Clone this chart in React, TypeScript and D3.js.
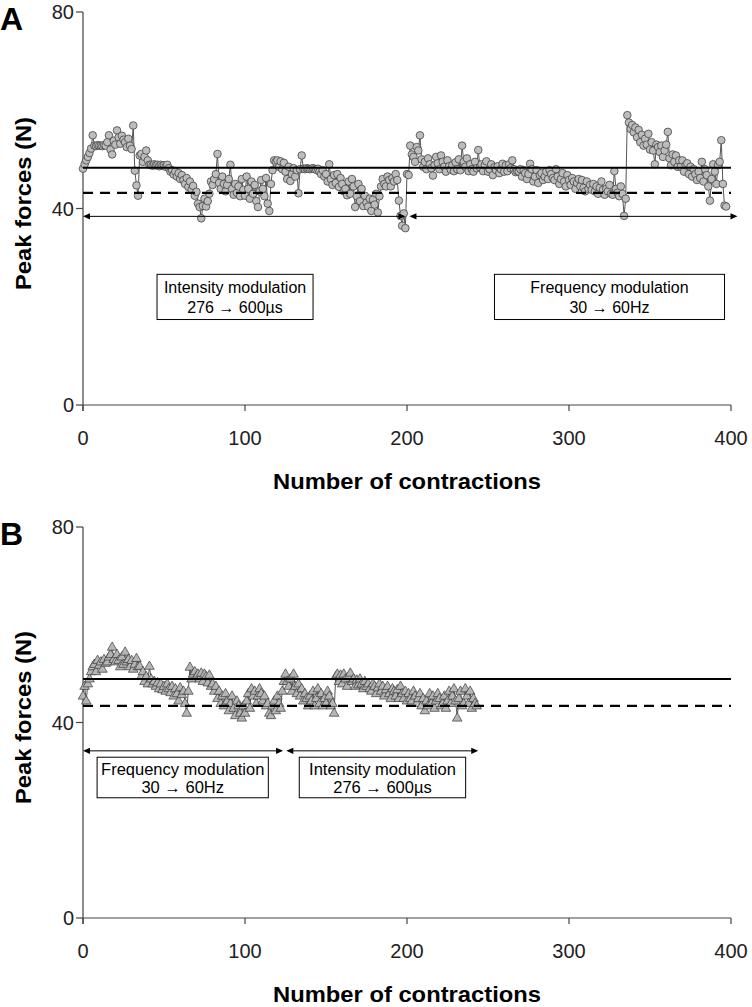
import React from "react";
import * as d3 from "d3";

// ---------- Panel A data (Number of contractions -> Peak forces, N) ----------
const peakA: number[] = [
  // intensity modulation 0-199
  48.1, 49.0, 49.8, 50.5, 51.3, 52.2, 54.9,
  52.8, 52.7, 52.9, 52.8, 52.8, 52.7, 52.9, 52.8,
  53.5, 54.9, 52.0, 51.0, 53.8, 53.0, 55.9,
  54.5, 53.2, 54.8, 54.0, 53.5, 52.5, 54.2, 52.8, 52.1, 56.9,
  47.7, 44.7, 42.6, 50.8,
  51.1, 49.5, 50.5, 51.8, 49.8, 48.9,
  48.9, 48.7, 49.0, 48.8, 48.9, 48.6, 48.9, 48.7, 48.8, 48.5, 48.9, 48.2,
  47.5, 47.8, 46.9, 47.5, 46.5, 47.2, 46.0, 46.8, 45.8,
  45.0, 46.2, 44.4, 45.5, 43.8, 44.6, 42.6, 43.4,
  41.0, 40.3, 38.0, 40.5, 42.0, 40.4, 41.5, 43.0,
  45.5, 44.8, 46.0, 47.0, 51.1, 45.2, 44.0, 46.5, 45.0, 43.5, 44.8, 46.0,
  48.9,
  44.0, 42.8, 45.0, 43.2, 44.5, 42.5, 46.0, 43.8, 42.6,
  46.5, 44.0, 42.0, 45.5, 43.0, 44.8, 41.5, 40.3, 43.5, 45.8,
  44.0, 42.5, 46.2, 41.0, 39.5, 45.0, 47.8,
  49.8, 49.5, 49.8, 48.5, 49.6, 48.0, 49.3,
  47.5, 46.0, 48.5, 45.6, 47.0, 48.2, 46.5, 47.8, 43.1, 48.0, 50.8,
  48.1, 48.0, 48.2, 48.1, 48.0, 48.1, 48.2, 48.0, 47.9, 48.1, 47.5, 47.0, 47.8,
  46.5, 47.0, 45.5, 49.0, 46.0, 44.8, 46.8, 45.2, 47.0, 44.4, 46.2, 45.0, 43.5, 44.0, 42.7,
  45.5, 43.0, 46.0, 44.5, 40.3, 42.5, 45.0, 41.5, 44.0, 40.5, 42.6, 41.2,
  40.4, 42.0, 39.5, 41.8, 40.8, 43.0, 39.2, 42.5,
  44.5, 46.0, 45.0, 44.5, 46.5, 45.8, 44.5, 46.2, 45.5, 47.0, 45.8,
  41.6, 38.5, 36.5, 39.0, 36.0,
  // frequency modulation 200-399
  47.0, 46.8, 52.8, 51.0, 50.5, 49.5, 52.5, 51.8, 54.9, 50.0, 48.5, 49.5, 48.0, 50.2, 49.0, 48.2,
  46.7, 48.8, 50.5, 49.2, 48.0, 50.8, 49.5, 48.5, 47.5, 49.8, 48.6, 47.9, 48.8, 47.6, 49.4, 48.0, 50.0, 47.8, 52.8, 49.5,
  48.5, 50.2, 47.6, 49.0, 48.0, 47.5, 49.5, 48.2, 51.9, 48.4, 49.0, 47.6, 48.8, 49.6, 47.5, 48.0, 49.0, 46.8, 48.4, 47.8,
  48.6, 47.2, 48.0, 49.1, 47.5, 48.8, 47.6, 49.0, 48.2, 49.8, 48.0, 47.4, 47.6, 47.5, 48.0, 46.5, 47.8, 47.2, 46.0, 47.0,
  49.1, 48.0, 45.5, 46.5, 47.8, 45.2, 46.8, 47.2, 45.8, 46.5, 47.5, 46.0, 47.8, 47.0, 46.2, 45.8, 48.0, 46.5, 45.0, 46.0,
  47.2, 45.5, 44.5, 46.8, 45.8, 44.8, 46.2, 45.5, 44.0, 45.2, 46.0, 44.5, 45.8, 44.2, 43.5, 45.5, 44.0, 44.8, 43.8, 45.0,
  43.5, 44.5, 43.0, 44.2, 45.5, 43.8, 42.8, 44.0, 43.5, 44.8, 43.0, 42.8, 47.6, 44.0, 43.2, 42.5, 44.5, 43.0, 38.5, 42.0,
  59.0, 57.5, 56.2, 57.0, 55.5, 56.5, 54.5, 56.0, 53.5, 55.0, 52.8, 54.2, 53.0, 55.2, 52.0, 53.5, 51.8, 49.0, 53.0, 52.5,
  51.5, 52.8, 50.5, 51.8, 53.0, 55.6, 50.2, 48.8, 51.0, 49.5, 50.8, 48.5, 49.8, 48.5, 49.8, 47.5, 48.8, 49.2, 47.0, 48.5,
  46.5, 48.0, 47.0, 45.8, 47.5, 46.2, 49.5, 45.5, 48.0, 46.8, 44.5, 41.6, 46.0, 49.0, 47.5, 45.0, 48.8, 49.5, 53.9, 45.0, 40.6, 40.4,
];

// ---------- Panel B data ----------
const peakB: number[] = [
  45.5, 47.5, 44.5, 48.0, 49.0, 50.5, 51.5, 52.0, 50.5, 52.8, 51.8,
  52.5, 51.0, 53.0, 52.2, 52.5, 53.5, 54.0, 55.5, 53.0, 52.5, 54.0, 52.8, 51.5, 53.5, 52.0,
  54.5, 52.5, 53.0, 51.5, 52.8, 51.0, 52.0, 53.2, 51.5, 51.6, 49.5, 50.5, 48.5, 49.5, 48.0,
  51.6, 49.0, 48.0, 48.5, 47.5, 48.2, 47.0, 48.0, 46.8, 47.5, 46.5, 48.0, 47.0, 46.2, 47.5, 45.5, 47.0, 46.0, 44.5, 47.2, 45.8, 46.5,
  44.0, 42.0, 46.5, 51.4, 49.0,
  50.0, 50.5, 49.5, 50.0, 49.0, 50.2, 48.5, 50.0, 49.5, 48.2, 49.8, 47.5, 48.0, 46.5, 47.5,
  45.0, 46.5, 44.0, 45.5, 43.5, 46.0, 44.5, 42.5, 44.0, 45.5, 43.0, 41.5, 44.5, 43.5, 42.0, 41.0, 43.5, 42.0, 44.5, 46.0, 43.0,
  47.0, 45.5, 46.5, 44.0, 45.5, 47.0, 46.0, 44.5, 45.5, 43.5, 44.0, 42.0, 41.5, 43.5, 44.5, 42.5, 45.5, 44.0, 43.0, 46.5, 48.5, 50.0,
  48.5, 47.5, 49.0, 46.5, 50.0, 47.5, 46.0, 48.0, 45.5, 47.0, 44.5, 46.0, 45.0, 43.5, 45.5,
  44.5, 46.5, 43.5, 45.0, 47.0, 44.0, 46.0, 43.5, 45.0, 44.0, 46.5, 45.5, 43.5, 44.0, 42.0,
  49.5, 50.0, 48.5, 49.8, 48.0, 50.0, 49.0, 47.5, 49.5, 50.2, 48.5, 49.0, 47.5, 48.8, 47.8, 49.0, 48.0, 47.0, 48.5, 47.5,
  48.0, 47.0, 46.5, 48.0, 47.5, 46.0, 47.2, 48.0, 46.5, 47.5, 45.5, 46.8, 47.5, 46.0, 45.0, 47.0, 46.5, 45.5, 46.8, 45.0, 47.5, 46.0, 45.0, 46.5, 44.5,
  46.0, 45.0, 44.5, 46.5, 45.5, 44.0, 45.0, 46.0, 43.5, 45.0, 42.5, 44.5, 43.5, 46.0, 44.0, 45.5, 43.0, 44.5, 46.0, 45.0, 43.5, 44.0, 45.5, 43.0, 44.5, 46.5, 44.0, 45.5, 47.0, 44.5, 41.0, 45.0, 46.5, 43.5, 44.0, 47.0, 45.5, 44.0, 46.5, 43.0, 45.0, 44.0, 43.5,
];

// reference lines (N)
const refA = { solid: 48.3, dashed: 43.2 };
const refB = { solid: 48.9, dashed: 43.4 };

const xTicks = [0, 100, 200, 300, 400];
const yTicks = [0, 40, 80];

// annotation phases (contraction ranges)
const phasesA = [
  { from: 0, to: 199, title: "Intensity modulation", detail: "276 \u2192 600\u00b5s", boxFrom: 45.7, boxTo: 142 },
  { from: 201.5, to: 404, title: "Frequency modulation", detail: "30 \u2192 60Hz", boxFrom: 254, boxTo: 396 },
];
const phasesB = [
  { from: 0, to: 123.5, title: "Frequency modulation", detail: "30 \u2192 60Hz", boxFrom: 8.7, boxTo: 114.4 },
  { from: 125.5, to: 244, title: "Intensity modulation", detail: "276 \u2192 600\u00b5s", boxFrom: 133.5, boxTo: 236.2 },
];

const FONT = "'Liberation Sans', Arial, Helvetica, sans-serif";

type Phase = { from: number; to: number; title: string; detail: string; boxFrom: number; boxTo: number };

function Panel(props: {
  letter: string;
  top: number;
  bottom: number;
  values: number[];
  marker: "circle" | "triangle";
  refs: { solid: number; dashed: number };
  phases: Phase[];
  arrowY: number;
  boxTop: number;
  boxBottom: number;
  boxFont: number;
}) {
  const { letter, top, bottom, values, marker, refs, phases, arrowY, boxTop, boxBottom, boxFont } = props;
  const x = d3.scaleLinear().domain([0, 400]).range([83, 731]);
  const y = d3.scaleLinear().domain([0, 80]).range([bottom, top]);
  const pts = values.map((v, i) => [x(i), y(v)] as [number, number]);
  const line = d3.line()(pts) || "";
  const triPath = "M0,-4.8L4.8,3.5L-4.8,3.5Z";
  const midY = (top + bottom) / 2 - 5;
  const aY = y(arrowY);
  const bT = y(boxTop);
  const bB = y(boxBottom);
  const arrowHead = (px: number, py: number, dir: number) =>
    `M${px},${py}L${px - dir * 7},${py - 3.2}L${px - dir * 7},${py + 3.2}Z`;
  return (
    <g>
      <text x={0} y={top + 18} fontFamily={FONT} fontWeight="bold" fontSize={32} fill="#000">
        {letter}
      </text>
      {/* y axis */}
      <line x1={x(0)} x2={x(0)} y1={top} y2={bottom + 6} stroke="#444" strokeWidth={1.2} />
      {yTicks.map((t) => (
        <g key={"y" + t}>
          <line x1={x(0) - 7} x2={x(0)} y1={y(t)} y2={y(t)} stroke="#444" strokeWidth={1.2} />
          <text x={74} y={y(t)} textAnchor="end" dominantBaseline="central" fontFamily={FONT} fontSize={20} fill="#222">
            {t}
          </text>
        </g>
      ))}
      {/* x axis */}
      <line x1={x(0)} x2={x(400)} y1={bottom} y2={bottom} stroke="#444" strokeWidth={1.2} />
      {xTicks.map((t) => (
        <g key={"x" + t}>
          <line x1={x(t)} x2={x(t)} y1={bottom} y2={bottom + 6} stroke="#444" strokeWidth={1.2} />
          <text x={x(t)} y={bottom + 33} textAnchor="middle" dominantBaseline="central" fontFamily={FONT} fontSize={20} fill="#222">
            {t}
          </text>
        </g>
      ))}
      <text
        x={407}
        y={bottom + 76}
        textAnchor="middle"
        dominantBaseline="central"
        fontFamily={FONT}
        fontWeight="bold"
        fontSize={22.5}
        textLength={268}
        lengthAdjust="spacingAndGlyphs"
        fill="#000"
      >
        Number of contractions
      </text>
      <text
        transform={`translate(23,${midY}) rotate(-90)`}
        textAnchor="middle"
        dominantBaseline="central"
        fontFamily={FONT}
        fontWeight="bold"
        fontSize={22.5}
        textLength={173}
        lengthAdjust="spacingAndGlyphs"
        fill="#000"
      >
        Peak forces (N)
      </text>
      {/* series */}
      <path d={line} fill="none" stroke="#555" strokeWidth={1} />
      {pts.map(([px, py], i) =>
        marker === "circle" ? (
          <circle key={i} cx={px} cy={py} r={3.8} fill="#bdbdbd" stroke="#444" strokeWidth={0.8} />
        ) : (
          <path key={i} d={triPath} transform={`translate(${px},${py})`} fill="#b5b5b5" stroke="#3a3a3a" strokeWidth={0.7} />
        )
      )}
      {/* reference lines */}
      <line x1={x(0)} x2={x(400)} y1={y(refs.solid)} y2={y(refs.solid)} stroke="#000" strokeWidth={2.2} />
      <line x1={x(0)} x2={x(400)} y1={y(refs.dashed)} y2={y(refs.dashed)} stroke="#000" strokeWidth={2.2} strokeDasharray="10,7" />
      {/* phases */}
      {phases.map((p, i) => (
        <g key={"p" + i}>
          <line x1={x(p.from) + 2} x2={x(p.to) - 2} y1={aY} y2={aY} stroke="#000" strokeWidth={1} />
          <path d={arrowHead(x(p.from), aY, -1)} fill="#000" />
          <path d={arrowHead(x(p.to), aY, 1)} fill="#000" />
          <rect x={x(p.boxFrom)} y={bT} width={x(p.boxTo) - x(p.boxFrom)} height={bB - bT} fill="#fff" stroke="#000" strokeWidth={1} />
          <text x={(x(p.boxFrom) + x(p.boxTo)) / 2} y={bT + (bB - bT) * 0.3} textAnchor="middle" dominantBaseline="central" fontFamily={FONT} fontSize={boxFont} fill="#000">
            {p.title}
          </text>
          <text x={(x(p.boxFrom) + x(p.boxTo)) / 2} y={bT + (bB - bT) * 0.73} textAnchor="middle" dominantBaseline="central" fontFamily={FONT} fontSize={boxFont} fill="#000">
            {p.detail}
          </text>
        </g>
      ))}
    </g>
  );
}

export default function App() {
  return (
    <svg width={752} height={1007} style={{ position: "absolute", left: 0, top: 0, background: "#fff" }}>
      <rect x={0} y={0} width={752} height={1007} fill="#fff" />
      <Panel
        letter="A"
        top={12}
        bottom={405}
        values={peakA}
        marker="circle"
        refs={refA}
        phases={phasesA}
        arrowY={38.4}
        boxTop={26.6}
        boxBottom={17.4}
        boxFont={16}
      />
      <Panel
        letter="B"
        top={527}
        bottom={918}
        values={peakB}
        marker="triangle"
        refs={refB}
        phases={phasesB}
        arrowY={34.2}
        boxTop={32.9}
        boxBottom={24.6}
        boxFont={16.5}
      />
    </svg>
  );
}
